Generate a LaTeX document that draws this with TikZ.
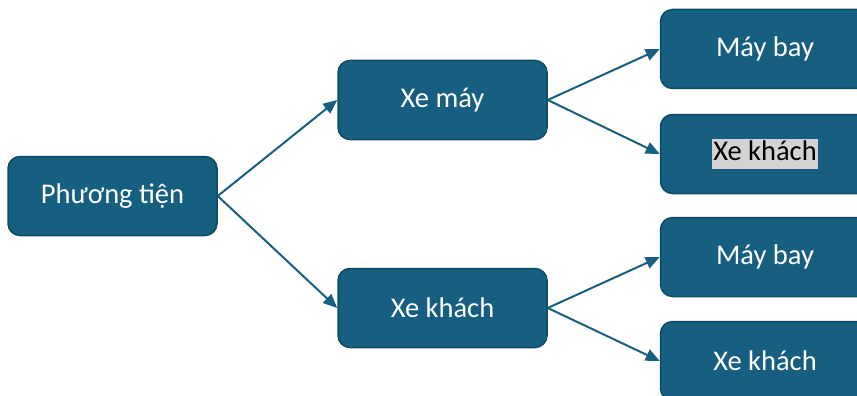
\documentclass[tikz,border=0pt]{standalone}
\usepackage{fontspec}
\setmainfont{Carlito}
\usetikzlibrary{arrows.meta}
\definecolor{boxfill}{RGB}{22,95,128}
\definecolor{boxline}{RGB}{14,72,98}
\definecolor{hlgray}{RGB}{210,210,210}
\begin{document}
\begin{tikzpicture}[x=1pt,y=-1pt,
  box/.style={draw=boxline, line width=1.5pt, fill=boxfill, rounded corners=12pt,
    minimum width=209pt, minimum height=79pt, text=white, inner sep=0pt,
    font=\fontsize{28.5}{32}\selectfont},
  conn/.style={draw=boxfill, line width=2pt, -{Triangle[length=14pt,width=12pt]}}]
\useasboundingbox (0,0) rectangle (857,396);
\node[box] (root) at (112.5,196) {Phương tiện};
\node[box] (xm) at (442.5,100) {Xe máy};
\node[box] (xk) at (442.5,308) {Xe khách};
\node[box] (r1) at (765,49) {Máy bay};
\node[box] (r2) at (765,154) {\fboxsep=1.5pt\colorbox{hlgray}{\rule[-7.5pt]{0pt}{25.5pt}\color{black}Xe khách}};
\node[box] (r3) at (765,257) {Máy bay};
\node[box] (r4) at (765,361) {Xe khách};
\draw[conn] (root.east) -- (xm.west);
\draw[conn] (root.east) -- (xk.west);
\draw[conn] (xm.east) -- (r1.west);
\draw[conn] (xm.east) -- (r2.west);
\draw[conn] (xk.east) -- (r3.west);
\draw[conn] (xk.east) -- (r4.west);
\end{tikzpicture}
\end{document}
